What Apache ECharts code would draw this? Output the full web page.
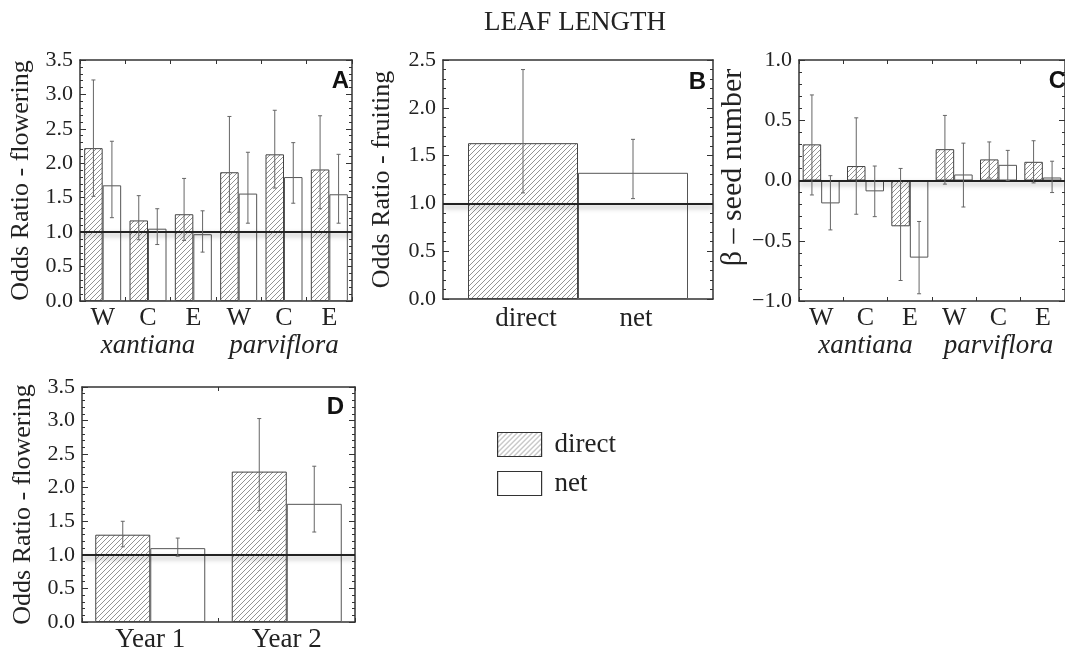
<!DOCTYPE html>
<html>
<head>
<meta charset="utf-8">
<script src="https://cdn.jsdelivr.net/npm/echarts@6/dist/echarts.min.js"></script>
<style>
html, body { margin: 0; padding: 0; background: #fff; }
#main { width: 1065px; height: 653px; }
</style>
</head>
<body>
<div id="main"></div>
<script>
// A - odds ratio of flowering by region
const regions = ['W', 'C', 'E', 'W', 'C', 'E'];
const subspecies = ['xantiana', 'parviflora'];
const flowerDirect = [2.22, 1.17, 1.26, 1.87, 2.13, 1.91];
const flowerDirectLo = [1.52, 0.89, 0.88, 1.29, 1.64, 1.34];
const flowerDirectHi = [3.21, 1.53, 1.78, 2.68, 2.77, 2.69];
const flowerNet = [1.68, 1.05, 0.97, 1.56, 1.80, 1.55];
const flowerNetLo = [1.21, 0.82, 0.71, 1.13, 1.42, 1.13];
const flowerNetHi = [2.32, 1.34, 1.31, 2.16, 2.30, 2.13];

// B - odds ratio of fruiting
const fruitLabels = ['direct', 'net'];
const fruitValue = [1.63, 1.32];
const fruitLo = [1.11, 1.05];
const fruitHi = [2.40, 1.67];

// C - beta, seed number
const seedDirect = [0.30, 0.12, -0.38, 0.26, 0.175, 0.155];
const seedDirectLo = [-0.12, -0.28, -0.83, -0.03, 0.02, -0.02];
const seedDirectHi = [0.71, 0.52, 0.10, 0.54, 0.32, 0.33];
const seedNet = [-0.19, -0.09, -0.64, 0.05, 0.13, 0.025];
const seedNetLo = [-0.41, -0.30, -0.94, -0.22, 0.0, -0.10];
const seedNetHi = [0.04, 0.12, -0.34, 0.31, 0.25, 0.16];

// D - odds ratio of flowering by year
const years = ['Year 1', 'Year 2'];
const yearDirect = [1.30, 2.24];
const yearDirectLo = [1.12, 1.66];
const yearDirectHi = [1.50, 3.03];
const yearNet = [1.10, 1.76];
const yearNetLo = [0.98, 1.34];
const yearNetHi = [1.25, 2.32];

const SERIF = "'Liberation Serif', 'DejaVu Serif', serif";
const SANS = "'Liberation Sans', Arial, sans-serif";
const INK = '#222';
const AXIS = '#333';

function hatch() {
	const c = document.createElement('canvas');
	c.width = 5;
	c.height = 5;
	const g = c.getContext('2d');
	g.fillStyle = '#fff';
	g.fillRect(0, 0, 5, 5);
	g.strokeStyle = '#777';
	g.lineWidth = 0.8;
	g.beginPath();
	g.moveTo(-1, 6); g.lineTo(6, -1);
	g.moveTo(-3, 3); g.lineTo(3, -3);
	g.moveTo(2, 8); g.lineTo(8, 2);
	g.stroke();
	return c;
}
const hatchFill = { image: hatch(), repeat: 'repeat' };

const fmt = v => (v < 0 ? '\u2212' : '') + Math.abs(v).toFixed(1);
const zip3 = (lo, hi) => lo.map((l, i) => [i, l, hi[i]]);

function errRender(offset) {
	return function (params, api) {
		const x = api.value(0);
		const lo = api.coord([x, api.value(1)]);
		const hi = api.coord([x, api.value(2)]);
		const cx = lo[0] + offset;
		const st = { stroke: '#666', lineWidth: 1 };
		return {
			type: 'group',
			children: [
				{ type: 'line', shape: { x1: cx, y1: hi[1], x2: cx, y2: lo[1] }, style: st },
				{ type: 'line', shape: { x1: cx - 2, y1: hi[1], x2: cx + 2, y2: hi[1] }, style: st },
				{ type: 'line', shape: { x1: cx - 2, y1: lo[1], x2: cx + 2, y2: lo[1] }, style: st }
			]
		};
	};
}

function catAxis(grid, data, opts) {
	return Object.assign({
		type: 'category',
		gridIndex: grid,
		data: data,
		position: 'bottom',
		axisLine: { show: true, onZero: false, lineStyle: { color: AXIS, width: 1.5 } },
		axisTick: { show: true, inside: true, length: 4, lineStyle: { color: AXIS } },
		axisLabel: { show: true, interval: 0, color: INK, fontFamily: SERIF, fontSize: 26, margin: 4 },
		splitLine: { show: false }
	}, opts || {});
}

function valAxis(grid, min, max, opts) {
	return Object.assign({
		type: 'value',
		gridIndex: grid,
		min: min,
		max: max,
		interval: 0.5,
		position: 'left',
		axisLine: { show: true, onZero: false, lineStyle: { color: AXIS, width: 1.5 } },
		axisTick: { show: true, inside: true, length: 6, lineStyle: { color: AXIS } },
		minorTick: { show: true, splitNumber: 5, length: 3, lineStyle: { color: AXIS } },
		axisLabel: { show: true, color: INK, fontFamily: SERIF, fontSize: 22, margin: 7, formatter: fmt },
		splitLine: { show: false },
		minorSplitLine: { show: false },
		nameLocation: 'middle',
		nameRotate: 90,
		nameTextStyle: { color: INK, fontFamily: SERIF, fontSize: 26 }
	}, opts || {});
}

const mirrorX = { position: 'top', axisLabel: { show: false } };
const mirrorY = { position: 'right', axisLabel: { show: false }, name: '' };
const groupX = {
	offset: 27,
	axisLine: { show: false, onZero: false },
	axisTick: { show: false },
	axisLabel: { show: true, interval: 0, color: INK, fontFamily: SERIF, fontSize: 27, fontStyle: 'italic', margin: 4 }
};
const noTick = { axisTick: { show: false } };

const refLine = v => ({
	silent: true,
	symbol: ['none', 'none'],
	label: { show: false },
	lineStyle: {
		color: '#222', width: 2, type: 'solid',
		shadowColor: 'rgba(0,0,0,0.35)', shadowBlur: 5, shadowOffsetY: 3
	},
	data: [{ yAxis: v }]
});

const directStyle = { color: hatchFill, borderColor: '#444', borderWidth: 1 };
const netStyle = { color: '#fff', borderColor: '#555', borderWidth: 1 };

function barPair(xi, yi, d, n, w, ref) {
	return [
		{ name: 'direct', type: 'bar', xAxisIndex: xi, yAxisIndex: yi, data: d, barWidth: w, barGap: 0, itemStyle: directStyle },
		{ name: 'net', type: 'bar', xAxisIndex: xi, yAxisIndex: yi, data: n, barWidth: w, barGap: 0, itemStyle: netStyle, markLine: refLine(ref) }
	];
}

function errPair(xi, yi, dErr, nErr, w) {
	return [
		{ type: 'custom', xAxisIndex: xi, yAxisIndex: yi, z: 5, data: dErr, renderItem: errRender(-w / 2), encode: { x: 0, y: [1, 2] } },
		{ type: 'custom', xAxisIndex: xi, yAxisIndex: yi, z: 5, data: nErr, renderItem: errRender(w / 2), encode: { x: 0, y: [1, 2] } }
	];
}

const chart = echarts.init(document.getElementById('main'));

chart.setOption({
	animation: false,
	backgroundColor: '#fff',
	grid: [
		{ left: 80, top: 60, width: 272, height: 241 },
		{ left: 443, top: 60, width: 270, height: 239 },
		{ left: 799, top: 60, width: 272, height: 241 },
		{ left: 82, top: 387, width: 273, height: 239 },
		{ left: 471, top: 60, width: 220, height: 239 }
	],
	xAxis: [
		catAxis(0, regions),
		catAxis(0, regions, mirrorX),
		catAxis(0, subspecies, groupX),
		catAxis(1, [''], Object.assign({}, noTick, { axisLabel: { show: false } })),
		catAxis(1, [''], Object.assign({}, noTick, mirrorX)),
		catAxis(4, fruitLabels, { axisLine: { show: false, onZero: false }, axisTick: { show: false },
			axisLabel: { show: true, interval: 0, color: INK, fontFamily: SERIF, fontSize: 27, margin: 6 } }),
		catAxis(2, regions),
		catAxis(2, regions, mirrorX),
		catAxis(2, subspecies, groupX),
		catAxis(3, years, { axisLabel: { show: true, interval: 0, color: INK, fontFamily: SERIF, fontSize: 27, margin: 4 } }),
		catAxis(3, years, mirrorX)
	],
	yAxis: [
		valAxis(0, 0, 3.5, { name: 'Odds Ratio - flowering', nameGap: 46 }),
		valAxis(0, 0, 3.5, mirrorY),
		valAxis(1, 0, 2.5, { name: 'Odds Ratio - fruiting', nameGap: 48 }),
		valAxis(1, 0, 2.5, mirrorY),
		valAxis(4, 0, 2.5, { show: false }),
		valAxis(2, -1, 1, { name: '\u03b2 \u2013 seed number', nameGap: 50,
			nameTextStyle: { color: INK, fontFamily: SERIF, fontSize: 30, padding: [0, 0, 0, 26] } }),
		valAxis(2, -1, 1, mirrorY),
		valAxis(3, 0, 3.5, { name: 'Odds Ratio - flowering', nameGap: 46 }),
		valAxis(3, 0, 3.5, mirrorY)
	],
	legend: {
		data: ['direct', 'net'],
		orient: 'vertical',
		left: 492,
		top: 426,
		itemWidth: 44,
		itemHeight: 24,
		itemGap: 12,
		icon: 'rect',
		selectedMode: false,
		itemStyle: { borderColor: '#333', borderWidth: 1.2 },
		textStyle: { color: INK, fontFamily: SERIF, fontSize: 27, padding: [0, 0, 0, 8] }
	},
	graphic: [
		{ type: 'text', x: 575, y: 23, style: { text: 'LEAF LENGTH', fill: INK, font: '27px ' + SERIF, textAlign: 'center', textVerticalAlign: 'middle' } },
		{ type: 'text', x: 349, y: 81, style: { text: 'A', fill: '#111', font: 'bold 24px ' + SANS, textAlign: 'right', textVerticalAlign: 'middle' } },
		{ type: 'text', x: 706, y: 82, style: { text: 'B', fill: '#111', font: 'bold 24px ' + SANS, textAlign: 'right', textVerticalAlign: 'middle' } },
		{ type: 'text', x: 1066, y: 81, style: { text: 'C', fill: '#111', font: 'bold 24px ' + SANS, textAlign: 'right', textVerticalAlign: 'middle' } },
		{ type: 'text', x: 344, y: 407, style: { text: 'D', fill: '#111', font: 'bold 24px ' + SANS, textAlign: 'right', textVerticalAlign: 'middle' } }
	],
	series: [
		...barPair(0, 0, flowerDirect, flowerNet, 18.5, 1),
		...errPair(0, 0, zip3(flowerDirectLo, flowerDirectHi), zip3(flowerNetLo, flowerNetHi), 18.5),
		...barPair(3, 2, [fruitValue[0]], [fruitValue[1]], 110, 1),
		...errPair(3, 2, [[0, fruitLo[0], fruitHi[0]]], [[0, fruitLo[1], fruitHi[1]]], 110),
		...barPair(6, 5, seedDirect, seedNet, 18.5, 0),
		...errPair(6, 5, zip3(seedDirectLo, seedDirectHi), zip3(seedNetLo, seedNetHi), 18.5),
		...barPair(9, 7, yearDirect, yearNet, 55, 1),
		...errPair(9, 7, zip3(yearDirectLo, yearDirectHi), zip3(yearNetLo, yearNetHi), 55)
	]
});
</script>
</body>
</html>
